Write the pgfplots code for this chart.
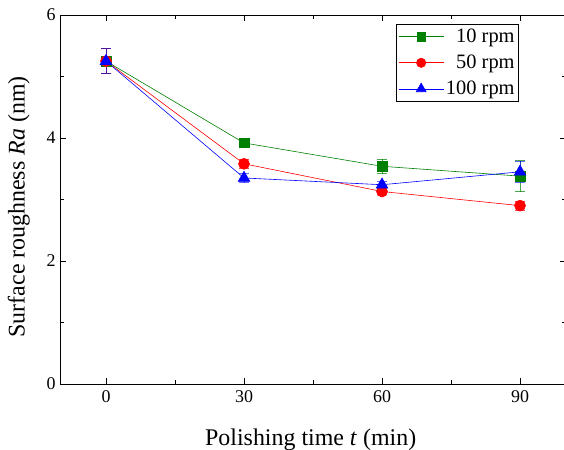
\documentclass[border=0pt]{standalone}
\usepackage{pgfplots}
\pgfplotsset{compat=1.18}
\usepackage{fontspec}
\setmainfont{Liberation Serif}
\definecolor{dgreen}{RGB}{0,128,0}
\newcommand{\tl}[1]{{\fontsize{18}{20}\selectfont #1}}
\begin{document}
\begin{tikzpicture}[x=1bp,y=1bp]
\begin{axis}[
  at={(0,0)}, anchor=south west,
  scale only axis, width=506bp, height=369bp,
  xmin=-10, xmax=100, ymin=0, ymax=6,
  xtick={0,30,60,90}, xticklabels={\tl{0},\tl{30},\tl{60},\tl{90}}, minor xtick={15,45,75},
  ytick={0,2,4,6}, yticklabels={\tl{0},\tl{2},\tl{4},\tl{6}}, minor ytick={1,3,5},
  tick align=inside,
  major tick length=6bp, minor tick length=4bp,
  tick style={black, line width=0.8pt},
  axis line style={line width=0.9pt},
  xticklabel style={yshift=-3bp},
  yticklabel style={xshift=-1bp},
  xlabel={Polishing time \textit{t} (min)},
  ylabel={Surface roughness \textit{Ra} (nm)},
  label style={font=\fontsize{24}{27}\selectfont},
  xlabel style={at={(axis cs:44.5,0)}, anchor=base, yshift=-61bp},
  ylabel style={at={(axis description cs:-0.07,0.48)}, anchor=base},
  legend style={at={(0.907,0.976)}, anchor=north east, draw=black, line width=0.7pt,
    font=\fontsize{20.5}{23}\selectfont, cells={anchor=east}, row sep=7bp,
    inner xsep=2bp, inner ysep=3bp},
  legend cell align=right,
  legend image code/.code={
    \draw[mark repeat=2, mark phase=2, #1, mark options={scale=0.85}]
      plot coordinates {(0bp,0bp) (22.5bp,0bp) (45bp,0bp)};},
  error bars/y dir=both, error bars/y explicit,
  error bars/error mark options={rotate=90, mark size=5bp, line width=0.8pt},
]
\addplot[dgreen, line width=0.6pt, mark=square*, mark size=4.8bp, mark options={solid},
  error bars/error bar style={dgreen, opacity=0.7, line width=0.9pt}]
  coordinates {(0,5.25) +- (0,0.2) (30,3.92) +- (0,0.03) (60,3.54) +- (0,0.12) (90,3.38) +- (0,0.25)};
\addlegendentry{10 rpm}
\addplot[red, line width=0.6pt, mark=*, mark size=5.5bp,
  error bars/error bar style={red, opacity=0.7, line width=0.9pt}]
  coordinates {(0,5.25) +- (0,0.2) (30,3.58) +- (0,0.07) (60,3.13) +- (0,0.05) (90,2.90) +- (0,0.07)};
\addlegendentry{50 rpm}
\addplot[blue, line width=0.6pt, mark=triangle*, mark size=6.7bp,
  error bars/error bar style={blue, opacity=0.6, line width=0.9pt}]
  coordinates {(0,5.25) +- (0,0.2) (30,3.35) +- (0,0.08) (60,3.24) +- (0,0.05) (90,3.45) +- (0,0.17)};
\addlegendentry{100 rpm}
\end{axis}
\pgfresetboundingbox
\path[use as bounding box] (-60,-66) rectangle (504,384);
\end{tikzpicture}
\end{document}
